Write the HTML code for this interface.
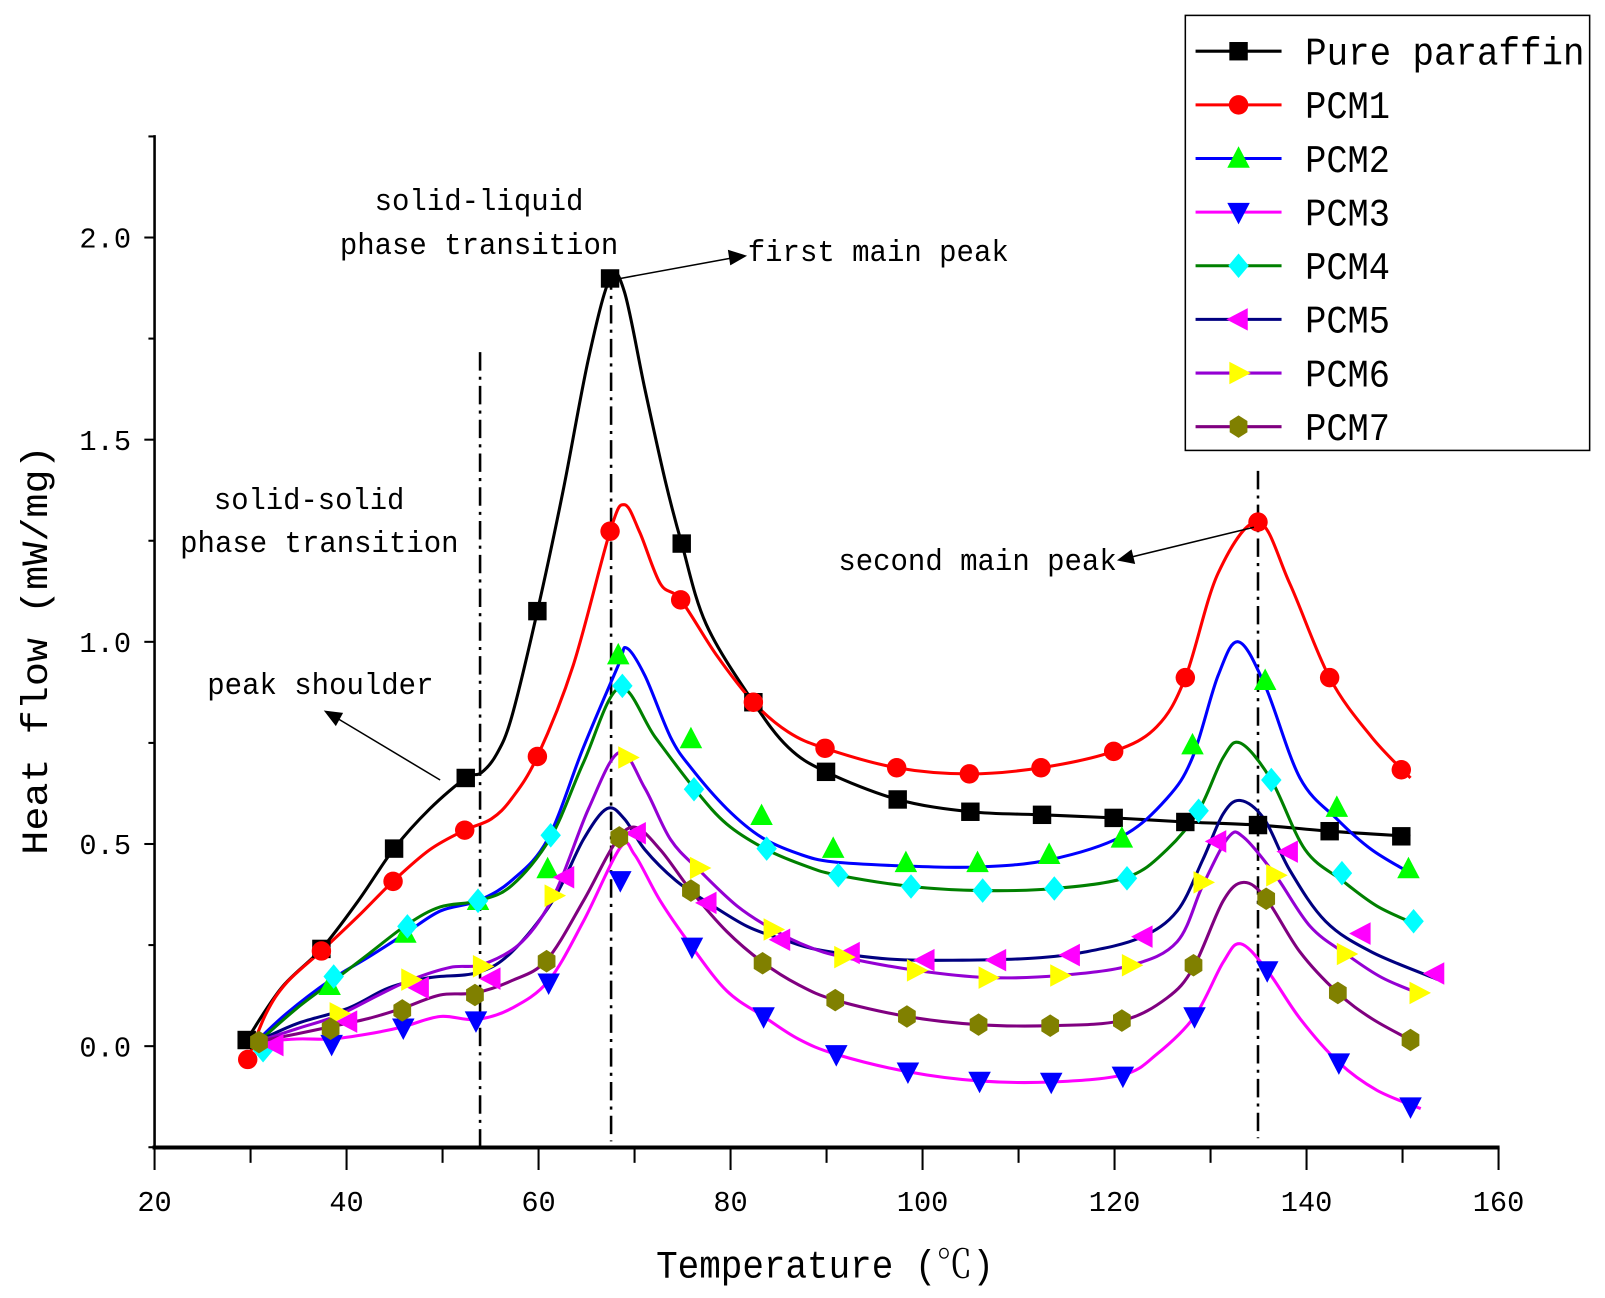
<!DOCTYPE html>
<html><head><meta charset="utf-8"><style>
html,body{margin:0;padding:0;background:#fff}
svg{display:block}
text{font-family:"Liberation Mono","Noto Serif CJK SC",monospace;fill:#000}
</style></head><body>
<svg id="s" width="1605" height="1298" viewBox="0 0 1568 1268" xmlns="http://www.w3.org/2000/svg">
<rect width="1568" height="1268" fill="#fff"/>
<g id="axes" stroke="#000" stroke-width="2.5" fill="none">
<line x1="151" y1="132" x2="151" y2="1121"/>
<line x1="149" y1="1121" x2="1465" y2="1121" stroke-width="4"/>
</g>
<g id="ticks" stroke="#000" stroke-width="2"></g>
<g font-size="28" text-anchor="middle" id="xl"></g>
<g font-size="28" text-anchor="end" id="yl"></g>
<text x="806" y="1248" font-size="38" text-anchor="middle" textLength="330" lengthAdjust="spacingAndGlyphs">Temperature (℃)</text>
<text transform="translate(46,635) rotate(-90)" font-size="36" text-anchor="middle" textLength="400" lengthAdjust="spacingAndGlyphs">Heat flow (mW/mg)</text>
<g stroke="#000" stroke-width="2.5" stroke-dasharray="18,6,3,6" fill="none">
<line x1="469" y1="344" x2="469" y2="1120"/>
<line x1="597" y1="265" x2="597" y2="1115"/>
<line x1="1229" y1="460" x2="1229" y2="1112"/>
</g>
<g id="curves" fill="none" stroke-width="3"></g>
<g id="marks"></g>
<g font-size="30" text-anchor="middle">
<text x="468" y="205" textLength="204" lengthAdjust="spacingAndGlyphs">solid-liquid</text>
<text x="468" y="248" textLength="272" lengthAdjust="spacingAndGlyphs">phase transition</text>
<text x="858" y="255" textLength="255" lengthAdjust="spacingAndGlyphs">first main peak</text>
<text x="302" y="497" textLength="186" lengthAdjust="spacingAndGlyphs">solid-solid</text>
<text x="312" y="539" textLength="272" lengthAdjust="spacingAndGlyphs">phase transition</text>
<text x="313" y="678" textLength="221" lengthAdjust="spacingAndGlyphs">peak shoulder</text>
<text x="955" y="557" textLength="272" lengthAdjust="spacingAndGlyphs">second main peak</text>
</g>
<g stroke="#000" stroke-width="1.5">
<line x1="606" y1="272" x2="715" y2="252"/><polygon points="728,250 712,245 714,258" fill="#000"/>
<line x1="430" y1="762" x2="330" y2="702"/><polygon points="318,695 328,708 334,697" fill="#000"/>
<line x1="1225" y1="515" x2="1106" y2="544"/><polygon points="1093,547 1108,550 1105,538" fill="#000"/>
</g>
<rect x="1158" y="15" width="395" height="425" fill="#fff" stroke="#000" stroke-width="1.5"/>
<g id="leg" font-size="38"></g>
</svg>
<script>
const NS="http://www.w3.org/2000/svg";
function el(t,a,p){const e=document.createElementNS(NS,t);for(const k in a)e.setAttribute(k,a[k]);p.appendChild(e);return e;}
const X=v=>151+(v-20)*1313/140, Y=v=>1022-v*395;
const tk=document.getElementById('ticks');
for(let v=20;v<=160;v+=10){const x=X(v);el('line',{x1:x,y1:1121,x2:x,y2:v%20?1136:1143},tk);if(v%20==0){const t=el('text',{x:x,y:1183},document.getElementById('xl'));t.textContent=v;}}
for(let i=-1;i<=9;i++){const v=i*0.25,y=Y(v);el('line',{x1:141+(i%2?4:0),y1:y,x2:151,y2:y},tk);if(i>=0&&i%2==0){const t=el('text',{x:128,y:y+10},document.getElementById('yl'));t.textContent=v.toFixed(1);}}
function path(p){let d=`M${p[0][0]},${p[0][1]}`;for(let i=0;i<p.length-1;i++){const a=p[Math.max(i-1,0)],b=p[i],c=p[i+1],e=p[Math.min(i+2,p.length-1)];d+=`C${b[0]+(c[0]-a[0])/6},${b[1]+(c[1]-a[1])/6} ${c[0]-(e[0]-b[0])/6},${c[1]-(e[1]-b[1])/6} ${c[0]},${c[1]}`;}return d;}
function mk(type,x,y,fill,g){const s=11;let pts;
if(type=='sq')return el('rect',{x:x-s+2,y:y-s+2,width:2*s-4,height:2*s-4,fill:fill},g);
if(type=='ci')return el('circle',{cx:x,cy:y,r:9.5,fill:fill},g);
if(type=='up')pts=[[x,y-12],[x-11,y+9],[x+11,y+9]];
if(type=='dn')pts=[[x,y+12],[x-11,y-9],[x+11,y-9]];
if(type=='di')pts=[[x,y-12],[x+10,y],[x,y+12],[x-10,y]];
if(type=='lt')pts=[[x-12,y],[x+9,y-11],[x+9,y+11]];
if(type=='rt')pts=[[x+12,y],[x-9,y-11],[x-9,y+11]];
if(type=='hx'){pts=[];for(let k=0;k<6;k++){const a=Math.PI/6+k*Math.PI/3;pts.push([x+10*Math.cos(a),y+11*Math.sin(a)]);}}
return el('polygon',{points:pts.map(p=>p.join(',')).join(' '),fill:fill},g);}
const S=[
{n:'Pure paraffin',w:273,c:'#000',m:'sq',f:'#000',
p:[[241,1016],[275,965],[314,927],[350,880],[385,829],[420,790],[455,760],[470,755],[485,737],[500,700],[525,597],[550,480],[575,350],[596,272],[610,285],[630,380],[650,470],[666,531],[690,610],[736,686],[770,730],[807,754],[877,781],[948,793],[1018,796],[1088,799],[1158,803],[1229,806],[1299,812],[1378,817]],
k:[[241,1016],[314,927],[385,829],[455,760],[525,597],[596,272],[666,531],[736,686],[807,754],[877,781],[948,793],[1018,796],[1088,799],[1158,803],[1229,806],[1299,812],[1369,817]]},
{n:'PCM1',w:83,c:'#f00',m:'ci',f:'#f00',
p:[[242,1035],[260,990],[280,960],[314,929],[350,895],[384,861],[420,830],[454,811],[480,800],[500,780],[525,739],[560,650],[596,519],[610,493],[625,520],[645,570],[665,586],[700,640],[736,686],[770,715],[806,731],[876,750],[947,756],[1017,750],[1088,734],[1130,710],[1158,662],[1190,560],[1229,510],[1260,570],[1299,662],[1340,720],[1378,760]],
k:[[242,1035],[314,929],[384,861],[454,811],[525,739],[596,519],[665,586],[736,686],[806,731],[876,750],[947,756],[1017,750],[1088,734],[1158,662],[1229,510],[1299,662],[1369,752]]},
{n:'PCM2',w:83,c:'#00f',m:'up',f:'#0f0',
p:[[250,1018],[280,990],[322,958],[360,935],[396,912],[430,890],[467,880],[500,860],[535,820],[570,730],[604,650],[612,633],[630,660],[655,720],[675,750],[710,790],[744,818],[780,834],[814,842],[885,846],[955,847],[1025,840],[1096,817],[1140,780],[1165,740],[1190,660],[1210,627],[1236,670],[1270,760],[1306,800],[1340,830],[1378,853]],
k:[[322,963],[396,912],[467,880],[535,849],[604,640],[675,722],[744,797],[814,829],[885,843],[955,843],[1025,835],[1096,819],[1165,728],[1236,665],[1306,789],[1376,849]]},
{n:'PCM3',w:83,c:'#f0f',m:'dn',f:'#00f',
p:[[250,1018],[290,1015],[324,1015],[360,1010],[394,1003],[430,993],[465,996],[500,985],[536,958],[570,900],[606,828],[620,835],[645,880],[676,925],[710,968],[746,993],[780,1015],[817,1030],[887,1047],[957,1056],[1027,1057],[1097,1050],[1130,1030],[1167,993],[1195,940],[1212,922],[1238,948],[1270,995],[1308,1038],[1345,1065],[1388,1083]],
k:[[324,1020],[394,1004],[465,997],[536,960],[606,860],[676,925],[746,993],[817,1030],[887,1047],[957,1056],[1027,1057],[1097,1051],[1167,993],[1238,948],[1308,1038],[1378,1081]]},
{n:'PCM4',w:83,c:'#008000',m:'di',f:'#0ff',
p:[[250,1020],[290,985],[326,958],[360,932],[398,903],[430,886],[467,880],[500,865],[538,818],[570,745],[605,672],[640,720],[678,770],[710,805],[749,830],[790,847],[819,855],[890,866],[960,870],[1030,868],[1101,857],[1140,830],[1171,792],[1195,740],[1212,726],[1242,762],[1275,830],[1311,860],[1345,885],[1381,902]],
k:[[257,1026],[326,954],[398,905],[467,880],[538,816],[608,670],[678,771],[749,829],[819,855],[890,866],[960,870],[1030,868],[1101,858],[1171,792],[1242,762],[1311,853],[1381,900]]},
{n:'PCM5',w:83,c:'#000080',m:'lt',f:'#f0f',
p:[[250,1018],[290,1000],[340,985],[380,965],[420,955],[467,950],[500,930],[540,880],[570,820],[593,790],[610,800],[630,830],[660,860],[692,882],[730,905],[763,917],[800,928],[870,937],[940,938],[1010,936],[1060,930],[1114,916],[1150,890],[1175,840],[1195,795],[1212,782],[1235,800],[1260,850],[1295,900],[1340,930],[1405,957]],
k:[[268,1021],[340,998],[410,965],[480,956],[552,857],[622,814],[691,882],[763,918],[831,931],[904,938],[974,938],[1046,933],[1117,915],[1189,822],[1259,832],[1330,912],[1402,951]]},
{n:'PCM6',w:83,c:'#9400d3',m:'rt',f:'#ff0',
p:[[250,1018],[290,1005],[330,992],[370,972],[402,957],[440,945],[472,942],[510,920],[542,873],[575,790],[605,735],[630,770],[655,820],[683,850],[720,885],[755,908],[790,925],[824,935],[895,948],[965,955],[1035,953],[1105,943],[1150,920],[1175,865],[1200,818],[1215,818],[1246,855],[1280,905],[1315,932],[1350,955],[1390,972]],
k:[[331,990],[401,957],[471,944],[541,875],[613,740],[683,848],[755,908],[824,935],[895,948],[965,955],[1035,953],[1105,943],[1175,862],[1246,855],[1315,932],[1386,970]]},
{n:'PCM7',w:83,c:'#800080',m:'hx',f:'#808000',
p:[[250,1018],[290,1010],[323,1003],[360,995],[393,985],[430,972],[464,970],[500,958],[534,938],[570,880],[600,825],[620,808],[645,830],[675,870],[710,910],[745,940],[780,962],[816,977],[886,993],[956,1001],[1026,1002],[1096,997],[1140,975],[1166,945],[1195,880],[1215,862],[1237,878],[1270,930],[1307,970],[1340,995],[1378,1016]],
k:[[253,1018],[323,1005],[393,987],[464,972],[534,939],[605,818],[675,870],[745,941],[816,977],[886,993],[956,1001],[1026,1002],[1096,997],[1166,943],[1237,878],[1307,970],[1378,1016]]}
];
const cg=document.getElementById('curves'),mg=document.getElementById('marks'),lg=document.getElementById('leg');
S.forEach((s,i)=>{el('path',{d:path(s.p),stroke:s.c},cg);});
S.forEach((s,i)=>{s.k.forEach(q=>mk(s.m,q[0],q[1],s.f,mg));
const y=50+i*52.4;el('line',{x1:1168,y1:y,x2:1252,y2:y,stroke:s.c,'stroke-width':3},lg);mk(s.m,1210,y,s.f,lg);
const t=el('text',{x:1275,y:y+13,textLength:s.w,lengthAdjust:'spacingAndGlyphs'},lg);t.textContent=s.n;});
</script>
</body></html>
